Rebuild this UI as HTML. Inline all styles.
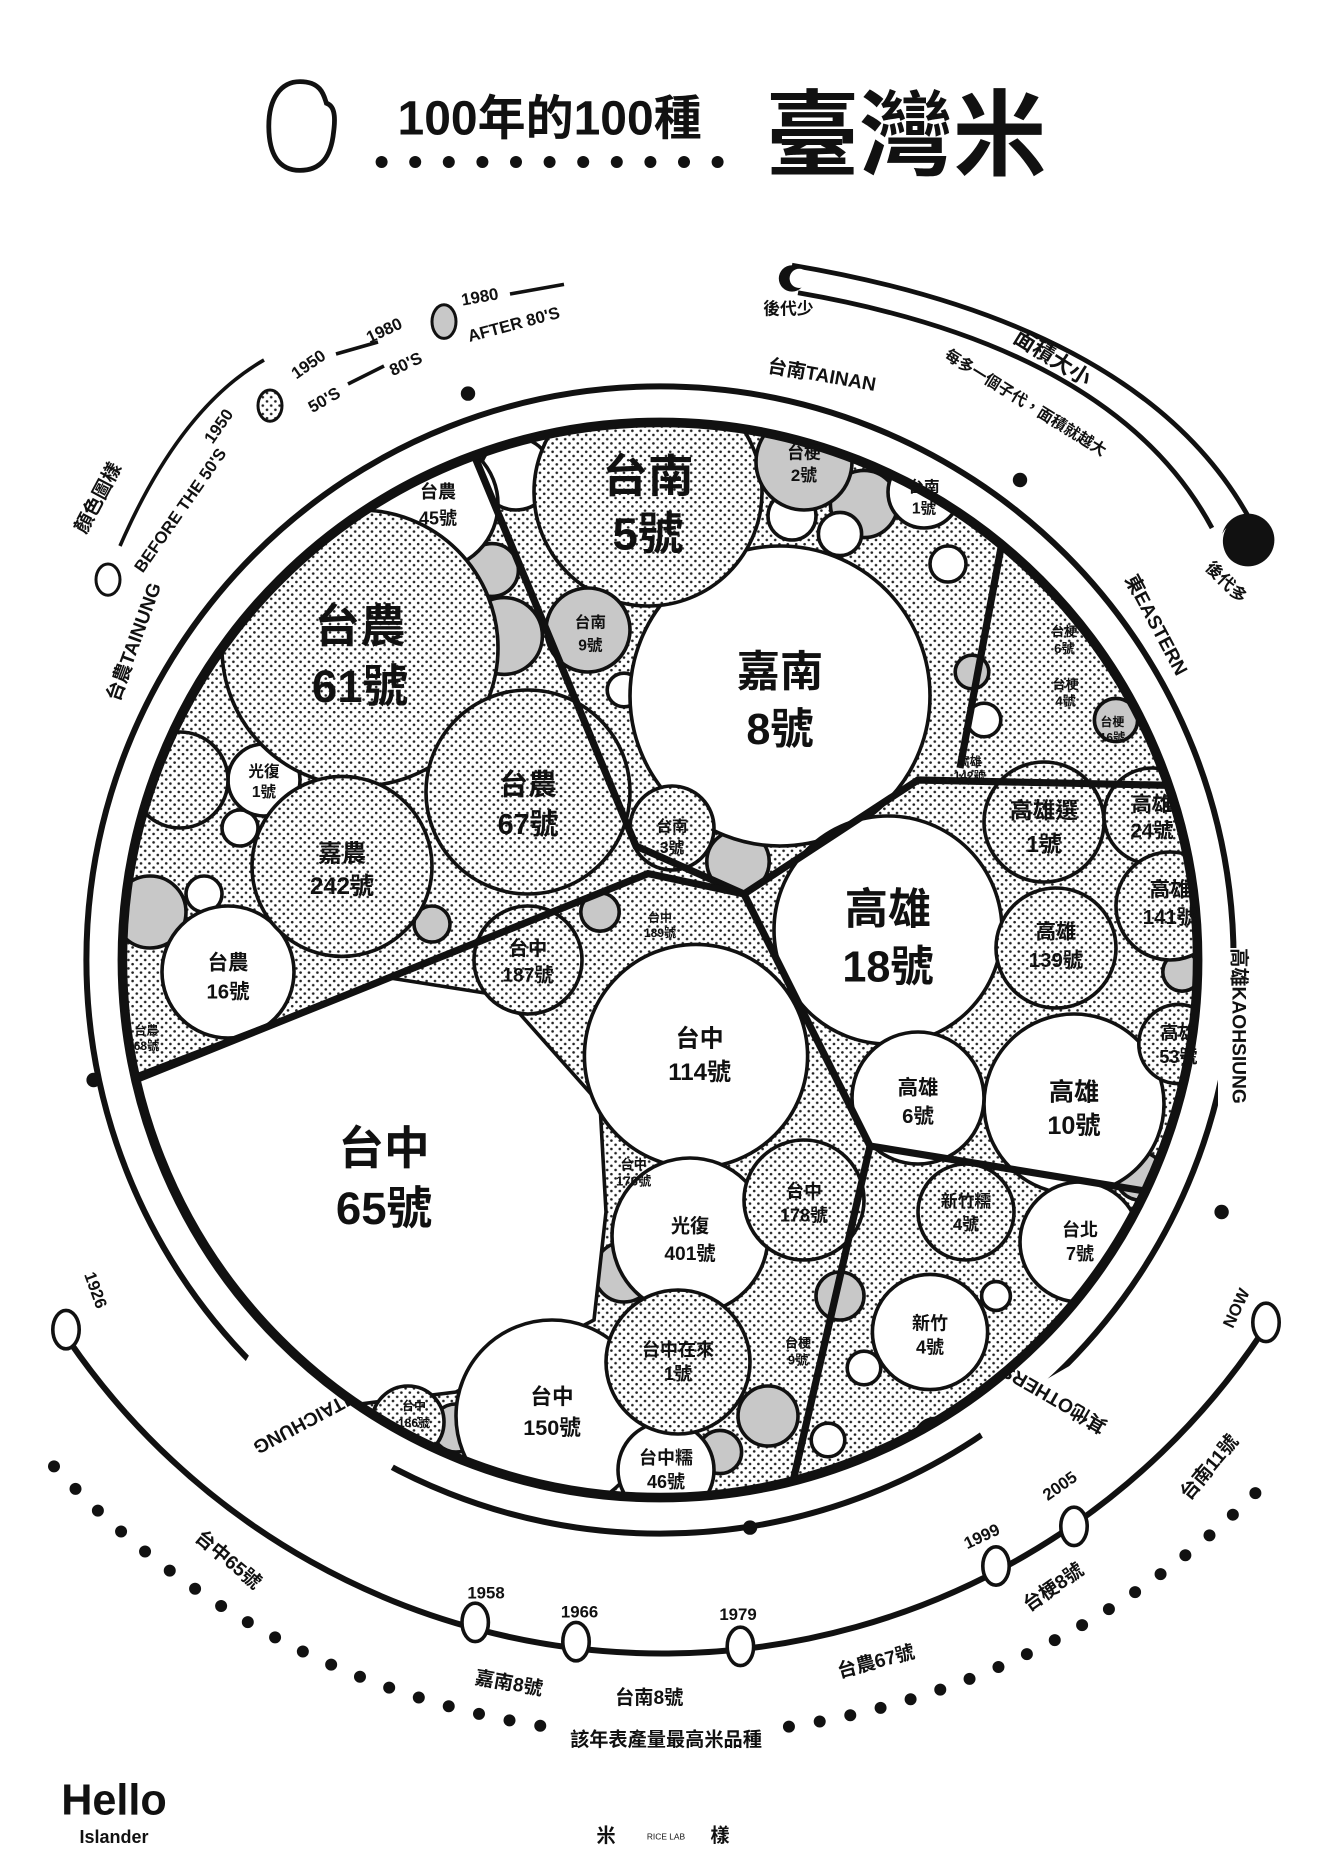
<!DOCTYPE html>
<html><head><meta charset="utf-8"><style>
html,body{margin:0;padding:0;background:#fff;width:1320px;height:1866px;overflow:hidden}
svg{display:block}
text{font-family:"Liberation Sans","Noto Sans CJK TC",sans-serif;font-weight:bold;fill:#111;text-anchor:middle}
</style></head><body>
<svg width="1320" height="1866" viewBox="0 0 1100 1555" xmlns="http://www.w3.org/2000/svg">
<defs>
<pattern id="dots" width="7" height="7" patternUnits="userSpaceOnUse">
<rect width="7" height="7" fill="#fff"/><circle cx="2" cy="2" r="1.1" fill="#222"/><circle cx="5.5" cy="5.5" r="1.1" fill="#222"/></pattern>
<clipPath id="cc"><circle cx="550" cy="800" r="448"/></clipPath>
</defs>

<path d="M250 68 C268 68 270 80 272 86 C278 88 280 95 278 110 C276 130 268 142 250 142 C232 142 224 128 224 105 C224 82 234 68 250 68Z" fill="none" stroke="#111" stroke-width="4"/>
<text x="458" y="112" font-size="40">100年的100種</text>
<g fill="#111">
<circle cx="318" cy="135" r="5"/><circle cx="346" cy="135" r="5"/><circle cx="374" cy="135" r="5"/><circle cx="402" cy="135" r="5"/><circle cx="430" cy="135" r="5"/><circle cx="458" cy="135" r="5"/><circle cx="486" cy="135" r="5"/><circle cx="514" cy="135" r="5"/><circle cx="542" cy="135" r="5"/><circle cx="570" cy="135" r="5"/><circle cx="598" cy="135" r="5"/></g>
<text x="755" y="140" font-size="78">臺灣米</text>

<circle cx="550" cy="800" r="478" fill="none" stroke="#111" stroke-width="5"/>
<g fill="#fff">
<rect x="620" y="292" width="125" height="30" transform="rotate(8 685 310)"/>
<rect x="920" y="505" width="90" height="30" transform="rotate(62 965 520)"/>
<rect x="1015" y="790" width="30" height="150"/>
<rect x="810" y="1150" width="130" height="35" transform="rotate(-30 875 1165)"/>
<rect x="190" y="1160" width="150" height="40" transform="rotate(30 265 1180)"/>
<rect x="80" y="440" width="40" height="170" transform="rotate(20 100 525)"/>
</g>
<g fill="#111"><circle cx="390" cy="328" r="6"/><circle cx="850" cy="400" r="6"/><circle cx="78" cy="900" r="6"/><circle cx="625" cy="1273" r="6"/><circle cx="1018" cy="1010" r="6"/></g>
<text x="685" y="318" font-size="16" transform="rotate(10 685 312)">台南TAINAN</text>
<text x="965" y="527" font-size="16" transform="rotate(62 965 520)">東EASTERN</text>
<text x="1032" y="860" font-size="16" transform="rotate(90 1032 855)">高雄KAOHSIUNG</text>
<text x="878" y="1172" font-size="16" transform="rotate(-150 878 1166)">其他OTHERS</text>
<text x="263" y="1185" font-size="16" transform="rotate(152 263 1180)">台中TAICHUNG</text>
<text x="112" y="540" font-size="16" transform="rotate(-70 112 535)">台農TAINUNG</text>

<g clip-path="url(#cc)">
<rect x="90" y="340" width="920" height="920" fill="url(#dots)"/>
<g fill="#c8c8c8" stroke="#111" stroke-width="3">
<circle cx="420" cy="530" r="32"/><circle cx="615" cy="718" r="26"/><circle cx="720" cy="420" r="28"/><circle cx="125" cy="760" r="30"/><circle cx="410" cy="475" r="22"/>
<circle cx="590" cy="485" r="30"/><circle cx="520" cy="1060" r="25"/><circle cx="640" cy="1180" r="25"/><circle cx="700" cy="1080" r="20"/><circle cx="950" cy="980" r="20"/>
<circle cx="360" cy="770" r="15"/><circle cx="120" cy="590" r="25"/><circle cx="780" cy="1200" r="18"/><circle cx="850" cy="1160" r="16"/><circle cx="930" cy="600" r="18"/>
<circle cx="600" cy="1210" r="18"/><circle cx="380" cy="1190" r="20"/><circle cx="500" cy="760" r="16"/><circle cx="810" cy="560" r="14"/><circle cx="985" cy="810" r="16"/>
</g>
<g fill="#fff" stroke="#111" stroke-width="3">
<circle cx="430" cy="395" r="30"/><circle cx="660" cy="430" r="20"/><circle cx="700" cy="445" r="18"/><circle cx="790" cy="470" r="15"/><circle cx="170" cy="745" r="15"/>
<circle cx="520" cy="575" r="14"/><circle cx="720" cy="1140" r="14"/><circle cx="690" cy="1200" r="14"/><circle cx="830" cy="1080" r="12"/><circle cx="820" cy="600" r="14"/>
<circle cx="200" cy="690" r="15"/>
</g>
<g fill="#fff" stroke="#111" stroke-width="3">
<circle cx="360" cy="420" r="55"/>
<circle cx="650" cy="580" r="125"/>
<circle cx="190" cy="810" r="55"/>
<path d="M90 905 L325 815 L420 830 L500 920 L505 1010 L495 1100 L380 1160 L300 1170 L120 1120 L90 1000Z"/>
<circle cx="580" cy="880" r="93"/>
<circle cx="740" cy="775" r="95"/>
<circle cx="895" cy="920" r="75"/>
<circle cx="765" cy="915" r="55"/>
<circle cx="575" cy="1030" r="65"/>
<circle cx="460" cy="1180" r="80"/>
<circle cx="555" cy="1225" r="40"/>
<circle cx="775" cy="1110" r="48"/>
<circle cx="900" cy="1035" r="50"/>
<circle cx="770" cy="410" r="30"/>
<circle cx="220" cy="650" r="30"/>
</g>
<g fill="url(#dots)" stroke="#111" stroke-width="3">
<circle cx="540" cy="410" r="95"/>
<circle cx="300" cy="540" r="115"/>
<circle cx="440" cy="660" r="85"/>
<circle cx="285" cy="722" r="75"/>
<circle cx="870" cy="685" r="50"/>
<circle cx="960" cy="680" r="40"/>
<circle cx="975" cy="755" r="45"/>
<circle cx="880" cy="790" r="50"/>
<circle cx="982" cy="870" r="33"/>
<circle cx="670" cy="1000" r="50"/>
<circle cx="565" cy="1135" r="60"/>
<circle cx="440" cy="800" r="45"/>
<circle cx="805" cy="1010" r="40"/>
<circle cx="560" cy="690" r="35"/>
<circle cx="150" cy="650" r="40"/>
<circle cx="340" cy="1185" r="30"/>
</g>
<g fill="#c8c8c8" stroke="#111" stroke-width="3">
<circle cx="670" cy="385" r="40"/>
<circle cx="490" cy="525" r="35"/>
</g>
<g fill="none" stroke="#111" stroke-width="6">
<path d="M385 355 L530 705 L620 745"/>
<path d="M100 905 L540 728 L620 745"/>
<path d="M620 745 L725 955 L655 1260"/>
<path d="M620 745 L765 650 L1000 655"/>
<path d="M840 425 L800 640"/>
<path d="M725 955 L1000 1000"/>
</g>
</g>
<circle cx="550" cy="800" r="448" fill="none" stroke="#111" stroke-width="8"/>

<g>
<text x="540" y="410" font-size="38">台南</text><text x="540" y="458" font-size="38">5號</text>
<text x="650" y="572" font-size="36">嘉南</text><text x="650" y="620" font-size="36">8號</text>
<text x="300" y="535" font-size="38">台農</text><text x="300" y="585" font-size="38">61號</text>
<text x="440" y="662" font-size="24">台農</text><text x="440" y="695" font-size="24">67號</text>
<text x="285" y="718" font-size="20">嘉農</text><text x="285" y="745" font-size="20">242號</text>
<text x="190" y="808" font-size="17">台農</text><text x="190" y="832" font-size="17">16號</text>
<text x="320" y="970" font-size="38">台中</text><text x="320" y="1020" font-size="38">65號</text>
<text x="583" y="872" font-size="20">台中</text><text x="583" y="900" font-size="20">114號</text>
<text x="740" y="770" font-size="36">高雄</text><text x="740" y="818" font-size="36">18號</text>
<text x="895" y="917" font-size="21">高雄</text><text x="895" y="945" font-size="21">10號</text>
<text x="765" y="912" font-size="17">高雄</text><text x="765" y="936" font-size="17">6號</text>
<text x="870" y="682" font-size="19">高雄選</text><text x="870" y="710" font-size="19">1號</text>
<text x="960" y="676" font-size="17">高雄</text><text x="960" y="698" font-size="17">24號</text>
<text x="975" y="747" font-size="17">高雄</text><text x="975" y="770" font-size="17">141號</text>
<text x="880" y="782" font-size="17">高雄</text><text x="880" y="806" font-size="17">139號</text>
<text x="982" y="866" font-size="15">高雄</text><text x="982" y="886" font-size="15">53號</text>
<text x="575" y="1027" font-size="16">光復</text><text x="575" y="1050" font-size="16">401號</text>
<text x="670" y="998" font-size="15">台中</text><text x="670" y="1018" font-size="15">178號</text>
<text x="565" y="1130" font-size="15">台中在來</text><text x="565" y="1150" font-size="15">1號</text>
<text x="460" y="1170" font-size="18">台中</text><text x="460" y="1196" font-size="18">150號</text>
<text x="555" y="1220" font-size="15">台中糯</text><text x="555" y="1240" font-size="15">46號</text>
<text x="440" y="796" font-size="16">台中</text><text x="440" y="818" font-size="16">187號</text>
<text x="775" y="1108" font-size="15">新竹</text><text x="775" y="1128" font-size="15">4號</text>
<text x="805" y="1006" font-size="14">新竹糯</text><text x="805" y="1025" font-size="14">4號</text>
<text x="900" y="1030" font-size="15">台北</text><text x="900" y="1050" font-size="15">7號</text>
<text x="365" y="415" font-size="15">台農</text><text x="365" y="437" font-size="15">45號</text>
<text x="670" y="382" font-size="14">台梗</text><text x="670" y="401" font-size="14">2號</text>
<text x="770" y="410" font-size="13">台南</text><text x="770" y="428" font-size="13">1號</text>
<text x="492" y="523" font-size="13">台南</text><text x="492" y="542" font-size="13">9號</text>
<text x="560" y="693" font-size="13">台南</text><text x="560" y="711" font-size="13">3號</text>
<text x="220" y="647" font-size="13">光復</text><text x="220" y="664" font-size="13">1號</text>
<text x="665" y="1123" font-size="11">台梗</text><text x="665" y="1137" font-size="11">9號</text>
<text x="528" y="974" font-size="11">台中</text><text x="528" y="988" font-size="11">176號</text>
<text x="345" y="1175" font-size="10">台中</text><text x="345" y="1189" font-size="10">186號</text>
<text x="888" y="574" font-size="11">台梗</text><text x="888" y="588" font-size="11">4號</text>
<text x="887" y="530" font-size="11">台梗</text><text x="887" y="544" font-size="11">6號</text>
<text x="927" y="605" font-size="10">台梗</text><text x="927" y="618" font-size="10">16號</text>
<text x="808" y="638" font-size="10">高雄</text><text x="808" y="650" font-size="10">142號</text>
<text x="122" y="862" font-size="10">台農</text><text x="122" y="875" font-size="10">68號</text>
<text x="550" y="768" font-size="10">台中</text><text x="550" y="781" font-size="10">189號</text>
</g>

<path d="M660 221 Q950 270 1040 430" fill="none" stroke="#111" stroke-width="4"/>
<path d="M665 244 Q930 290 1010 440" fill="none" stroke="#111" stroke-width="4"/>
<circle cx="660" cy="232" r="11" fill="#111"/><circle cx="666" cy="232" r="8" fill="#fff"/>
<circle cx="1040" cy="450" r="22" fill="#111"/><path d="M1022 440 A18 18 0 0 0 1030 470 A22 22 0 0 1 1022 440Z" fill="#fff"/>
<text x="657" y="262" font-size="14">後代少</text>
<text x="1022" y="490" font-size="14" transform="rotate(45 1022 485)">後代多</text>
<text x="876" y="304" font-size="18" transform="rotate(32 876 300)">面積大小</text>
<text x="855" y="340" font-size="13" transform="rotate(32 855 335)">每多一個子代，面積就越大</text>

<path d="M100 455 Q150 340 220 300" fill="none" stroke="#111" stroke-width="3"/>
<path d="M280 295 L315 285" stroke="#111" stroke-width="3"/>
<path d="M290 320 L320 305" stroke="#111" stroke-width="3"/>
<path d="M425 245 L470 237" stroke="#111" stroke-width="3"/>
<text x="82" y="420" font-size="16" transform="rotate(-62 82 415)">顏色圖樣</text>
<text x="150" y="430" font-size="14" transform="rotate(-55 150 425)">BEFORE THE 50'S</text>
<text x="182" y="360" font-size="14" transform="rotate(-55 182 355)">1950</text>
<text x="258" y="308" font-size="14" transform="rotate(-35 258 305)">1950</text>
<text x="270" y="338" font-size="14" transform="rotate(-30 270 333)">50'S</text>
<text x="320" y="280" font-size="14" transform="rotate(-25 320 275)">1980</text>
<text x="338" y="308" font-size="14" transform="rotate(-25 338 303)">80'S</text>
<text x="400" y="252" font-size="14" transform="rotate(-10 400 248)">1980</text>
<text x="428" y="275" font-size="14" transform="rotate(-15 428 270)">AFTER 80'S</text>
<ellipse cx="90" cy="483" rx="10" ry="13" fill="#fff" stroke="#111" stroke-width="2.5"/>
<ellipse cx="225" cy="338" rx="10" ry="13" fill="url(#dots)" stroke="#111" stroke-width="2.5"/>
<ellipse cx="370" cy="268" rx="10" ry="14" fill="#c8c8c8" stroke="#111" stroke-width="2.5"/>

<path d="M58 1118 A600 600 0 0 0 1052 1110" fill="none" stroke="#111" stroke-width="5"/>
<path d="M45 1222 A695 695 0 0 0 1062 1228" fill="none" stroke="#111" stroke-width="10" stroke-dasharray="0 26" stroke-linecap="round"/>
<rect x="465" y="1428" width="180" height="40" fill="#fff"/>
<g fill="#fff" stroke="#111" stroke-width="3">
<ellipse cx="55" cy="1108" rx="11" ry="16"/><ellipse cx="396" cy="1352" rx="11" ry="16"/><ellipse cx="480" cy="1368" rx="11" ry="16"/>
<ellipse cx="617" cy="1372" rx="11" ry="16"/><ellipse cx="830" cy="1305" rx="11" ry="16"/><ellipse cx="895" cy="1272" rx="11" ry="16"/><ellipse cx="1055" cy="1102" rx="11" ry="16"/></g>
<g font-size="14">
<text x="80" y="1080" transform="rotate(70 80 1075)">1926</text>
<text x="405" y="1332">1958</text><text x="483" y="1348">1966</text><text x="615" y="1350">1979</text>
<text x="818" y="1285" transform="rotate(-25 818 1280)">1999</text><text x="883" y="1243" transform="rotate(-35 883 1238)">2005</text>
<text x="1030" y="1095" transform="rotate(-65 1030 1090)">NOW</text>
</g>
<g font-size="16">
<text x="190" y="1305" transform="rotate(40 190 1300)">台中65號</text>
<text x="424" y="1408" transform="rotate(10 424 1403)">嘉南8號</text>
<text x="541" y="1420">台南8號</text>
<text x="730" y="1390" transform="rotate(-15 730 1385)">台農67號</text>
<text x="878" y="1328" transform="rotate(-35 878 1323)">台梗8號</text>
<text x="1008" y="1228" transform="rotate(-50 1008 1223)">台南11號</text>
<text x="555" y="1455">該年表產量最高米品種</text>
</g>

<text x="95" y="1512" font-size="36">Hello</text>
<text x="95" y="1536" font-size="15">Islander</text>
<text x="505" y="1535" font-size="16">米</text>
<text x="555" y="1533" font-size="7" style="font-weight:normal">RICE LAB</text>
<text x="600" y="1535" font-size="16">樣</text>
</svg>
</body></html>
